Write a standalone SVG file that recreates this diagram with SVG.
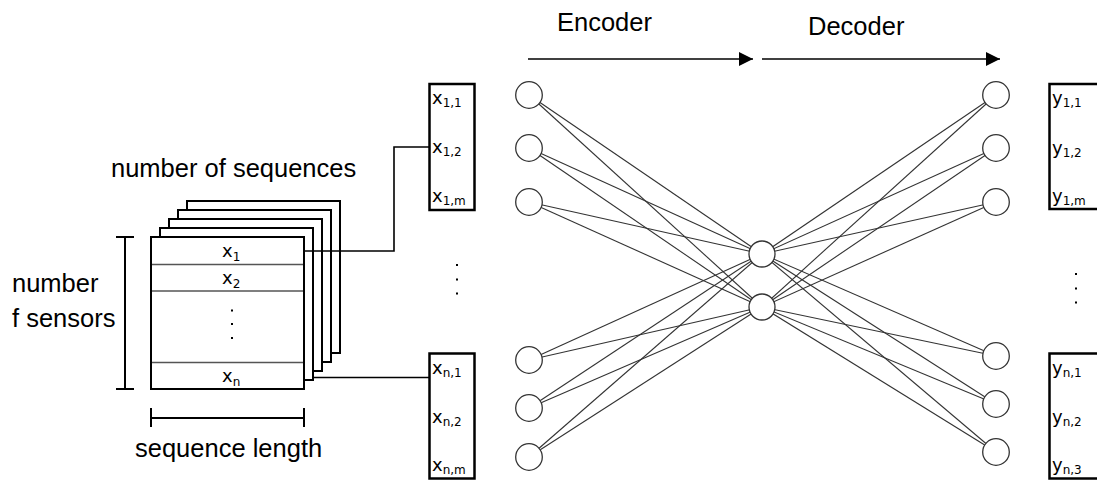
<svg xmlns="http://www.w3.org/2000/svg" width="1097" height="483" viewBox="0 0 1097 483">
<defs>
<style>
.big{font-family:"Liberation Sans",Arial,sans-serif;font-size:25.5px;fill:#000}
.lbl{font-family:"DejaVu Sans",Verdana,sans-serif;font-size:18px;fill:#000}
.sub{font-size:12px}
.sheet{fill:#fff;stroke:#000;stroke-width:2}
.row{stroke:#555;stroke-width:1.3;fill:none}
.box{fill:#fff;stroke:#000;stroke-width:2.5}
.neuron{fill:#fff;stroke:#333;stroke-width:1.3}
.edge{stroke:#333;stroke-width:1.1;fill:none}
.wire{stroke:#000;stroke-width:1.6;fill:none}
.brk{stroke:#000;stroke-width:2;fill:none}
.dot{fill:#000}
</style>
<marker id="ah" markerWidth="14" markerHeight="14" refX="14" refY="7" orient="auto" markerUnits="userSpaceOnUse">
<path d="M0,0 L14,7 L0,14 Z" fill="#000"/>
</marker>
</defs>
<rect width="1097" height="483" fill="#fff"/>

<g id="titles">
<text class="big" x="557" y="31">Encoder</text>
<text class="big" x="808" y="35">Decoder</text>
<line x1="528" y1="59" x2="753" y2="59" stroke="#000" stroke-width="1.6" marker-end="url(#ah)"/>
<line x1="762" y1="59" x2="1000" y2="59" stroke="#000" stroke-width="1.6" marker-end="url(#ah)"/>
</g>

<g id="stack">
<rect class="sheet" x="187" y="201" width="153" height="152"/>
<rect class="sheet" x="178" y="210" width="153" height="152"/>
<rect class="sheet" x="169" y="219" width="153" height="152"/>
<rect class="sheet" x="160" y="228" width="153" height="152"/>
<rect class="sheet" x="151" y="237" width="153" height="152"/>
<line class="row" x1="152" y1="264.5" x2="303" y2="264.5"/>
<line class="row" x1="152" y1="291" x2="303" y2="291"/>
<line class="row" x1="152" y1="362.5" x2="303" y2="362.5"/>
<text class="lbl" x="222" y="257">x<tspan class="sub" dy="4">1</tspan></text>
<text class="lbl" x="222" y="283.5">x<tspan class="sub" dy="4">2</tspan></text>
<text class="lbl" x="222" y="382">x<tspan class="sub" dy="4">n</tspan></text>
<rect class="dot" x="231" y="309.5" width="2" height="2"/>
<rect class="dot" x="231" y="323" width="2" height="2"/>
<rect class="dot" x="231" y="337" width="2" height="2"/>
<text class="big" x="111" y="177">number of sequences</text>
<text class="big" x="12" y="292">number</text>
<text class="big" x="12" y="327">f sensors</text>
<text class="big" x="135" y="457">sequence length</text>
<path class="brk" d="M116,237 H134 M125,237 V389 M116,389 H134"/>
<path class="brk" d="M151,408 V427 M151,418 H304 M304,408 V427"/>
</g>

<g id="connectors">
<polyline class="wire" points="304,251 394,251 394,147 429,147"/>
<line class="wire" x1="313" y1="377.5" x2="429" y2="377.5"/>
<g id="edges">
<line class="edge" x1="529" y1="95" x2="762" y2="254"/><line class="edge" x1="529" y1="95" x2="762" y2="307"/>
<line class="edge" x1="529" y1="148" x2="762" y2="254"/><line class="edge" x1="529" y1="148" x2="762" y2="307"/>
<line class="edge" x1="529" y1="202" x2="762" y2="254"/><line class="edge" x1="529" y1="202" x2="762" y2="307"/>
<line class="edge" x1="529" y1="360" x2="762" y2="254"/><line class="edge" x1="529" y1="360" x2="762" y2="307"/>
<line class="edge" x1="529" y1="408" x2="762" y2="254"/><line class="edge" x1="529" y1="408" x2="762" y2="307"/>
<line class="edge" x1="529" y1="457" x2="762" y2="254"/><line class="edge" x1="529" y1="457" x2="762" y2="307"/>
<line class="edge" x1="996" y1="95" x2="762" y2="254"/><line class="edge" x1="996" y1="95" x2="762" y2="307"/>
<line class="edge" x1="996" y1="148" x2="762" y2="254"/><line class="edge" x1="996" y1="148" x2="762" y2="307"/>
<line class="edge" x1="996" y1="202" x2="762" y2="254"/><line class="edge" x1="996" y1="202" x2="762" y2="307"/>
<line class="edge" x1="996" y1="356" x2="762" y2="254"/><line class="edge" x1="996" y1="356" x2="762" y2="307"/>
<line class="edge" x1="996" y1="404" x2="762" y2="254"/><line class="edge" x1="996" y1="404" x2="762" y2="307"/>
<line class="edge" x1="996" y1="452" x2="762" y2="254"/><line class="edge" x1="996" y1="452" x2="762" y2="307"/>
</g>
</g>

<g id="input-top">
<rect class="box" x="429.5" y="84" width="45" height="126"/>
<text class="lbl" x="432" y="104">x<tspan class="sub" dy="3">1,1</tspan></text>
<text class="lbl" x="432" y="153">x<tspan class="sub" dy="3">1,2</tspan></text>
<text class="lbl" x="432" y="202">x<tspan class="sub" dy="3">1,m</tspan></text>
</g>
<g id="input-bottom">
<rect class="box" x="429.5" y="353.5" width="45" height="125"/>
<text class="lbl" x="432" y="373.5">x<tspan class="sub" dy="3">n,1</tspan></text>
<text class="lbl" x="432" y="423">x<tspan class="sub" dy="3">n,2</tspan></text>
<text class="lbl" x="432" y="471">x<tspan class="sub" dy="3">n,m</tspan></text>
</g>
<g id="input-dots">
<rect class="dot" x="456" y="264" width="2" height="2"/>
<rect class="dot" x="456" y="278.5" width="2" height="2"/>
<rect class="dot" x="456" y="292.5" width="2" height="2"/>
</g>

<g id="output-top">
<rect class="box" x="1049.5" y="84" width="60" height="125"/>
<text class="lbl" x="1052" y="104">y<tspan class="sub" dy="3">1,1</tspan></text>
<text class="lbl" x="1052" y="153.5">y<tspan class="sub" dy="3">1,2</tspan></text>
<text class="lbl" x="1052" y="202">y<tspan class="sub" dy="3">1,m</tspan></text>
</g>
<g id="output-bottom">
<rect class="box" x="1049.5" y="353.5" width="60" height="125"/>
<text class="lbl" x="1052" y="373.5">y<tspan class="sub" dy="3">n,1</tspan></text>
<text class="lbl" x="1052" y="423">y<tspan class="sub" dy="3">n,2</tspan></text>
<text class="lbl" x="1052" y="471">y<tspan class="sub" dy="3">n,3</tspan></text>
</g>
<g id="output-dots">
<rect class="dot" x="1075" y="273" width="2" height="2"/>
<rect class="dot" x="1075" y="287.5" width="2" height="2"/>
<rect class="dot" x="1075" y="301.5" width="2" height="2"/>
</g>

<g id="encoder-layer">
<circle class="neuron" cx="529" cy="95" r="13.3"/>
<circle class="neuron" cx="529" cy="148" r="13.3"/>
<circle class="neuron" cx="529" cy="202" r="13.3"/>
<circle class="neuron" cx="529" cy="360" r="13.3"/>
<circle class="neuron" cx="529" cy="408" r="13.3"/>
<circle class="neuron" cx="529" cy="457" r="13.3"/>
</g>
<g id="latent-layer">
<circle class="neuron" cx="762" cy="254" r="13"/>
<circle class="neuron" cx="762" cy="307" r="13"/>
</g>
<g id="decoder-layer">
<circle class="neuron" cx="996" cy="95" r="13.3"/>
<circle class="neuron" cx="996" cy="148" r="13.3"/>
<circle class="neuron" cx="996" cy="202" r="13.3"/>
<circle class="neuron" cx="996" cy="356" r="13.3"/>
<circle class="neuron" cx="996" cy="404" r="13.3"/>
<circle class="neuron" cx="996" cy="452" r="13.3"/>
</g>
</svg>
